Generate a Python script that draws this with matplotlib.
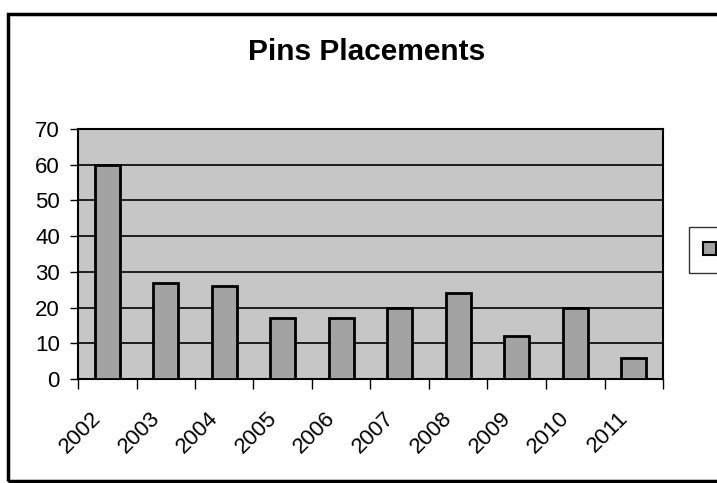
import matplotlib
matplotlib.use("Agg")
import matplotlib.pyplot as plt
from matplotlib.patches import Rectangle, Patch
from matplotlib.transforms import ScaledTranslation

years = ["2002", "2003", "2004", "2005", "2006", "2007", "2008", "2009", "2010", "2011"]
placements = [60, 27, 26, 17, 17, 20, 24, 12, 20, 6]
yticks = [0, 10, 20, 30, 40, 50, 60, 70]

W, H = 717, 483
fig = plt.figure(figsize=(W / 100, H / 100), dpi=100)
plt.rcParams['font.family'] = ['Liberation Sans', 'DejaVu Sans']

ax = fig.add_axes([78 / W, 1 - 379 / H, (663 - 78) / W, (379 - 129) / H])
ax.set_facecolor('#c6c6c6')
x = list(range(len(years)))
ax.bar(x, placements, width=0.43, color='#a3a3a3', edgecolor='black', linewidth=2, zorder=3)
ax.set_ylim(0, 70)
ax.set_xlim(-0.5, len(years) - 0.5)
ax.set_yticks(yticks)
ax.set_yticklabels([str(v) for v in yticks], fontsize=16)
ax.yaxis.grid(True, color='black', linewidth=1.2, zorder=1)
ax.set_axisbelow(True)
ax.tick_params(axis='y', direction='out', length=6, width=1, pad=7)

ax.set_xticks(x)
ax.set_xticklabels(years, fontsize=16, rotation=45, ha='right', va='center',
                   rotation_mode='anchor')
ax.tick_params(axis='x', which='major', length=0, pad=26)
ax.set_xticks([i - 0.5 for i in range(len(years) + 1)], minor=True)
ax.tick_params(axis='x', which='minor', direction='out', length=7, width=1)
shift = ScaledTranslation(-9 / 100, 0, fig.dpi_scale_trans)
for lbl in ax.get_xticklabels():
    lbl.set_transform(lbl.get_transform() + shift)

for s in ax.spines.values():
    s.set_linewidth(1.5)
    s.set_color('black')

fig.text(367 / W, 1 - 52 / H, "Pins Placements", fontsize=21.5, fontweight='bold',
         ha='center', va='center')

leg = fig.legend(handles=[Patch(facecolor='#a3a3a3', edgecolor='black', linewidth=1.5)],
                 labels=[''], loc='center left', bbox_to_anchor=(680 / W, 1 - 250 / H),
                 frameon=True, fancybox=False, handlelength=0.7, handleheight=0.7,
                 borderpad=0.8, handletextpad=0.0, fontsize=13)
leg.get_frame().set_edgecolor('black')
leg.get_frame().set_linewidth(1)

fig.patches.append(Rectangle((8 / W, 2 / H), 1.0, (481 - 14) / H, transform=fig.transFigure,
                             fill=False, edgecolor='black', linewidth=2.5))

fig.savefig("out.png", dpi=100)
